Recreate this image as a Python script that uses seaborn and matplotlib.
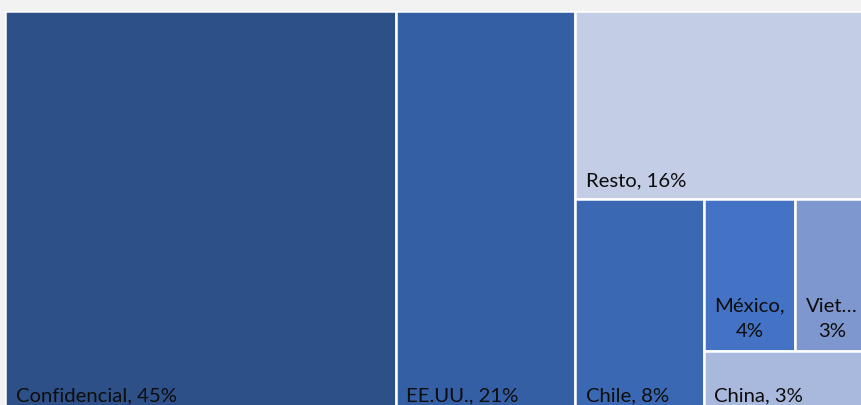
import matplotlib
matplotlib.use("Agg")
import matplotlib.pyplot as plt
from matplotlib.patches import Rectangle
import seaborn as sns

# ---- data -------------------------------------------------------------
categories = ["Confidencial", "EE.UU.", "Resto", "Chile", "México", "Vietnam", "China"]
values = [45.2, 20.8, 15.9, 7.9, 4.0, 3.2, 3.0]
colors = ["#2E5089", "#355FA5", "#C3CDE5", "#3B68B2", "#4472C4", "#7F97CF", "#A9B8DD"]
# nesting of the treemap (indices into categories); each group is sliced
# along the longer side of its rectangle
layout_tree = [0, 1, [2, [3, [[4, 5], 6]]]]

# ---- style ------------------------------------------------------------
sns.set_theme(style="white")
plt.rcParams["font.family"] = ["Lato", "DejaVu Sans"]
FONT_SIZE = 14.6
TEXT_COLOR = "#0d0d0d"

DPI = 100
FIG_W, FIG_H = 862, 405
fig = plt.figure(figsize=(FIG_W / DPI, FIG_H / DPI), dpi=DPI, facecolor="#F2F2F2")

# plot area (in figure pixels); the chart continues beyond the visible crop
L, T, R, B = 5.5, 10.5, 869.0, 414.0
W, H = R - L, B - T
ax = fig.add_axes([L / FIG_W, (FIG_H - B) / FIG_H, W / FIG_W, H / FIG_H])
ax.set_facecolor("white")
ax.set_xlim(0, W)
ax.set_ylim(H, 0)
ax.set_axis_off()


def total(node):
    if isinstance(node, int):
        return values[node]
    return sum(total(c) for c in node)


def slice_layout(node, x, y, w, h, out):
    if isinstance(node, int):
        out[node] = (x, y, w, h)
        return
    tot = total(node)
    if w >= h:
        cx = x
        for c in node:
            cw = w * total(c) / tot
            slice_layout(c, cx, y, cw, h, out)
            cx += cw
    else:
        cy = y
        for c in node:
            ch = h * total(c) / tot
            slice_layout(c, x, cy, w, ch, out)
            cy += ch


rects = {}
slice_layout(layout_tree, 0, 0, W, H, rects)

renderer = fig.canvas.get_renderer()
PAD_X = 10.5      # px from left edge of the cell
BASE_OFF = 12.5   # px from bottom edge to the (last) baseline
LINE_STEP = 25    # px between wrapped lines

for i, name in enumerate(categories):
    x, y, w, h = rects[i]
    ax.add_patch(Rectangle((x, y), w, h, facecolor=colors[i], edgecolor="white",
                           linewidth=1.8))
    pct = f"{round(values[i])}%"
    txt = ax.text(x + PAD_X, y + h - BASE_OFF, f"{name}, {pct}", ha="left",
                  va="baseline", fontsize=FONT_SIZE, color=TEXT_COLOR)
    avail = w - 2 * 8
    if txt.get_window_extent(renderer).width > avail:
        txt.remove()
        label = name + ","
        probe = ax.text(0, 0, label, fontsize=FONT_SIZE)
        while probe.get_window_extent(renderer).width > avail and len(label) > 2:
            label = name[: len(label) - 2] + "…"
            probe.set_text(label)
        probe.remove()
        cx = x + w / 2
        ax.text(cx, y + h - BASE_OFF - 1.5, pct, ha="center", va="baseline",
                fontsize=FONT_SIZE, color=TEXT_COLOR)
        ax.text(cx, y + h - BASE_OFF - 1.5 - LINE_STEP, label, ha="center",
                va="baseline", fontsize=FONT_SIZE, color=TEXT_COLOR)

fig.savefig("out.png", dpi=DPI, facecolor=fig.get_facecolor())
